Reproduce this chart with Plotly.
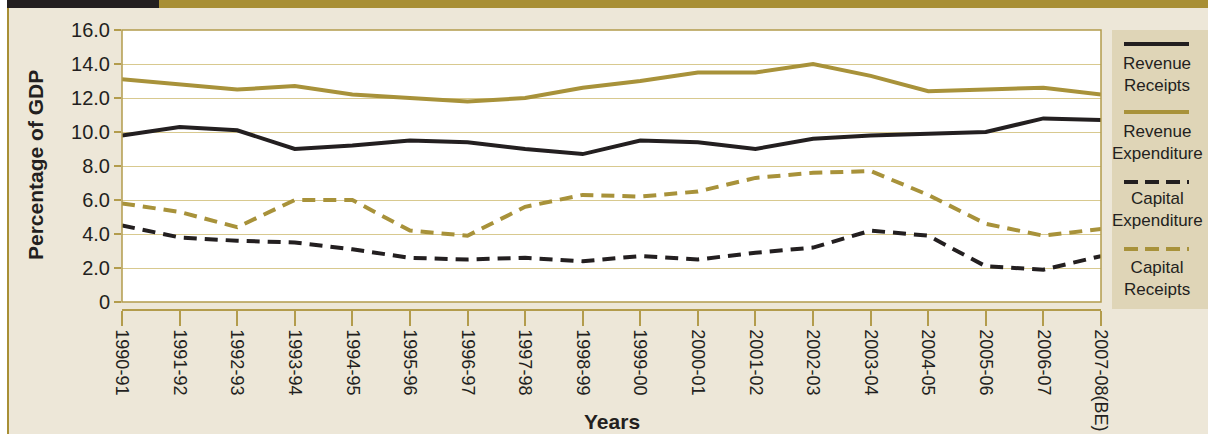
import plotly.graph_objects as go

years = ["1990-91", "1991-92", "1992-93", "1993-94", "1994-95", "1995-96",
         "1996-97", "1997-98", "1998-99", "1999-00", "2000-01", "2001-02",
         "2002-03", "2003-04", "2004-05", "2005-06", "2006-07", "2007-08(BE)"]

revenue_receipts = [9.8, 10.3, 10.1, 9.0, 9.2, 9.5, 9.4, 9.0, 8.7, 9.5,
                    9.4, 9.0, 9.6, 9.8, 9.9, 10.0, 10.8, 10.7]
revenue_expenditure = [13.1, 12.8, 12.5, 12.7, 12.2, 12.0, 11.8, 12.0, 12.6, 13.0,
                       13.5, 13.5, 14.0, 13.3, 12.4, 12.5, 12.6, 12.2]
capital_expenditure = [4.5, 3.8, 3.6, 3.5, 3.1, 2.6, 2.5, 2.6, 2.4, 2.7,
                       2.5, 2.9, 3.2, 4.2, 3.9, 2.1, 1.9, 2.7]
capital_receipts = [5.8, 5.3, 4.4, 6.0, 6.0, 4.2, 3.9, 5.6, 6.3, 6.2,
                    6.5, 7.3, 7.6, 7.7, 6.3, 4.6, 3.9, 4.3]

y_ticks = [0, 2, 4, 6, 8, 10, 12, 14, 16]
y_ticktext = ["0", "2.0", "4.0", "6.0", "8.0", "10.0", "12.0", "14.0", "16.0"]

series = [
    ("Revenue\nReceipts", revenue_receipts, "#231F20", "solid"),
    ("Revenue\nExpenditure", revenue_expenditure, "#A8923A", "solid"),
    ("Capital\nExpenditure", capital_expenditure, "#231F20", "13px,8px"),
    ("Capital\nReceipts", capital_receipts, "#A8923A", "13px,8px"),
]

W, H = 1208, 434
L, R, T, B = 122, 1101, 30, 310   # plot area in pixels (x axis line at B)
Y0 = 302                           # pixel of y=0

FONT = "Liberation Sans Narrow, Arial Narrow, Liberation Sans, sans-serif"
BEIGE = "#EDE7D8"
GOLD = "#A88F35"
GRID = "#D8C98F"
AXIS = "#B39C4C"
TEXT = "#231F20"


def px(xp):
    return (xp - L) / (R - L)


def py(yp):
    return (B - yp) / (B - T)


fig = go.Figure()
for name, vals, color, dash in series:
    fig.add_trace(go.Scatter(
        x=years, y=vals, mode="lines", name=name.replace("\n", " "),
        line=dict(color=color, width=4, dash=dash),
        showlegend=False, cliponaxis=False,
    ))

shapes = []
# white strip on far left
shapes.append(dict(type="rect", xref="paper", yref="paper", x0=px(0), x1=px(7),
                   y0=py(H), y1=py(0), fillcolor="white", line_width=0, layer="below"))
# top band
shapes.append(dict(type="rect", xref="paper", yref="paper", x0=px(7), x1=px(159),
                   y0=py(8), y1=py(0), fillcolor="#231F20", line_width=0, layer="below"))
shapes.append(dict(type="rect", xref="paper", yref="paper", x0=px(159), x1=px(W),
                   y0=py(8), y1=py(0), fillcolor=GOLD, line_width=0, layer="below"))
# left border line
shapes.append(dict(type="line", xref="paper", yref="paper", x0=px(8), x1=px(8),
                   y0=py(H), y1=py(8), line=dict(color=GOLD, width=2), layer="below"))
# plot frame
shapes.append(dict(type="rect", xref="x domain", yref="y domain", x0=0, x1=1,
                   y0=0, y1=1, line=dict(color=AXIS, width=1.5), layer="above"))
# legend box
shapes.append(dict(type="rect", xref="paper", yref="paper", x0=px(1112), x1=px(1210),
                   y0=py(309), y1=py(30), fillcolor="#DFD5B7", line_width=0, layer="below"))

annotations = []
leg_line_y = [44, 112, 182, 249]
leg_text_y = [74, 142, 210, 278]
for (name, vals, color, dash), ly, ty in zip(series, leg_line_y, leg_text_y):
    shapes.append(dict(type="line", xref="paper", yref="paper", x0=px(1124), x1=px(1189),
                       y0=py(ly), y1=py(ly),
                       line=dict(color=color, width=4,
                                 dash="14px,7px" if dash != "solid" else "solid")))
    annotations.append(dict(xref="paper", yref="paper", x=px(1157), y=py(ty),
                            text=name.replace("\n", "<br>"), showarrow=False,
                            xanchor="center", yanchor="middle",
                            font=dict(family=FONT, size=17, color=TEXT)))

annotations.append(dict(xref="paper", yref="paper", x=px(35), y=py(165),
                        text="<b>Percentage of GDP</b>", textangle=-90, showarrow=False,
                        xanchor="center", yanchor="middle",
                        font=dict(family=FONT, size=21, color=TEXT)))
annotations.append(dict(xref="paper", yref="paper", x=0.5, y=py(421),
                        text="<b>Years</b>", showarrow=False,
                        xanchor="center", yanchor="middle",
                        font=dict(family=FONT, size=21, color=TEXT)))

fig.update_layout(
    width=W, height=H, autosize=False,
    margin=dict(l=L, r=W - R, t=T, b=H - B, pad=0, autoexpand=False),
    paper_bgcolor=BEIGE, plot_bgcolor="white",
    font=dict(family=FONT, color=TEXT),
    shapes=shapes, annotations=annotations,
    xaxis=dict(type="category", range=[0, len(years) - 1], anchor="free", position=0,
               automargin=False,
               showline=True, linecolor=AXIS, linewidth=1.5,
               ticks="outside", ticklen=15, tickcolor=AXIS, tickwidth=1.5,
               tickangle=90, showgrid=False, zeroline=False,
               tickfont=dict(family=FONT, size=18, color=TEXT)),
    yaxis=dict(range=[0, 16], domain=[(B - Y0) / (B - T), 1], automargin=False,
               tickvals=y_ticks, ticktext=y_ticktext,
               showline=False, ticks="outside", ticklen=7, tickcolor=AXIS, tickwidth=1.5,
               showgrid=True, gridcolor=GRID, gridwidth=1, zeroline=False,
               tickfont=dict(family=FONT, size=20, color=TEXT)),
)

post = """
document.body.style.margin='0';
document.body.style.overflow='hidden';
document.body.style.background='%s';
""" % BEIGE

fig.write_html(
    "out.html",
    config={"displayModeBar": False, "responsive": False},
    post_script=post,
)
